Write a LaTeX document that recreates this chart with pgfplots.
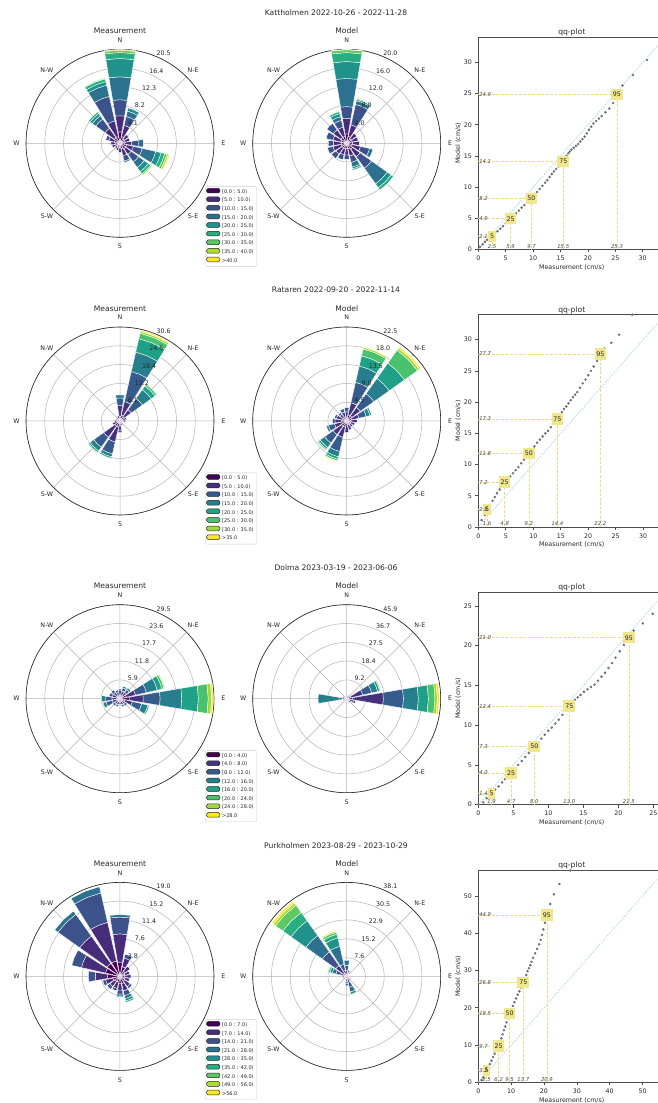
\documentclass[border=0pt]{standalone}
\usepackage{fontspec}
\setmainfont{DejaVu Sans}
\usepackage{pgfplots}
\pgfplotsset{compat=1.18}
\usepgfplotslibrary{polar}

\definecolor{vA1}{HTML}{440154}\definecolor{vA2}{HTML}{472C7A}\definecolor{vA3}{HTML}{3B528B}
\definecolor{vA4}{HTML}{2C728E}\definecolor{vA5}{HTML}{21918C}\definecolor{vA6}{HTML}{28AE80}
\definecolor{vA7}{HTML}{5EC962}\definecolor{vA8}{HTML}{ADDC30}\definecolor{vA9}{HTML}{FDE725}
\definecolor{vB1}{HTML}{440154}\definecolor{vB2}{HTML}{46327E}\definecolor{vB3}{HTML}{365C8D}
\definecolor{vB4}{HTML}{277F8E}\definecolor{vB5}{HTML}{1FA187}\definecolor{vB6}{HTML}{4AC16D}
\definecolor{vB7}{HTML}{A0DA39}\definecolor{vB8}{HTML}{FDE725}
\definecolor{khakic}{HTML}{F0E68C}
\definecolor{diagc}{HTML}{A6D5E8}
\definecolor{ptc}{HTML}{6E6E6E}

\newcommand\fs[1]{\fontsize{#1}{#1}\selectfont}

\newcount\binidx
\def\binpref{vA}
\newcommand\sect[2]{%
  \gdef\prevr{0}\global\binidx=0\relax
  \pgfmathsetmacro\aA{90-#1+9.6}%
  \pgfmathsetmacro\aM{90-#1}%
  \pgfmathsetmacro\aB{90-#1-9.6}%
  \pgfplotsforeachungrouped \rr in {#2}{%
    \global\advance\binidx by 1\relax
    \edef\doit{\noexpand\addplot[wedge,fill=\binpref\the\binidx] coordinates {(\aA,\prevr) (\aA,\rr) (\aM,\rr) (\aB,\rr) (\aB,\prevr) (\aM,\prevr) (\aA,\prevr)};}%
    \doit
    \xdef\prevr{\rr}%
  }%
}
\newcommand\compass[1]{%
 \node[cmp] at (axis cs:90,{1.1*#1}) {N};
 \node[cmp] at (axis cs:45,{1.1*#1}) {N-E};
 \node[cmp] at (axis cs:0,{1.1*#1}) {E};
 \node[cmp] at (axis cs:-45,{1.1*#1}) {S-E};
 \node[cmp] at (axis cs:-90,{1.1*#1}) {S};
 \node[cmp] at (axis cs:-135,{1.1*#1}) {S-W};
 \node[cmp] at (axis cs:180,{1.1*#1}) {W};
 \node[cmp] at (axis cs:135,{1.1*#1}) {N-W};
}
\newcommand\rl[1]{\node[rlab] at (axis cs:67.5,#1) {#1};}
\newcommand\pct[3]{%
 \addplot[pline] coordinates {(0,#2) (#1,#2) (#1,0)};
 \addplot[draw=none, nodes near coords, point meta=explicit symbolic, every node near coord/.style={pbox}] coordinates {(#1,#2) [#3]};
 \addplot[draw=none, nodes near coords, point meta=explicit symbolic, every node near coord/.style={vlab, anchor=west}] coordinates {(0,#2) [#2]};
 \addplot[draw=none, nodes near coords, point meta=explicit symbolic, every node near coord/.style={vlab, anchor=south}] coordinates {(#1,0) [#1]};
}
\newcommand\legitem[2]{\addlegendimage{fill=#1}\addlegendentry{#2}}

\tikzset{
  cmp/.style={font=\fs{6.3}, text=black!85, inner sep=0pt},
  rlab/.style={font=\fs{6.3}, text=black!85, anchor=south west, inner sep=0.4pt},
  ttl/.style={font=\fs{7.6}, text=black!85, inner sep=0pt},
  pbox/.style={fill=khakic, text=black!85, font=\fs{6.3}, inner xsep=1.8pt, minimum height=10.5pt, anchor=center},
  vlab/.style={font=\fs{5.3}\itshape, text=black!75, inner sep=0.8pt},
  swallow/.style={execute at begin node={\setbox0=\hbox\bgroup}, execute at end node={\egroup}, inner sep=0pt},
}
\pgfplotsset{
  wedge/.style={draw=white, line width=0.35pt},
  pline/.style={khakic!90!orange, line width=0.6pt, dash pattern=on 3pt off 1.5pt},
  rosestyle/.style={width=188pt, height=188pt, scale only axis, anchor=center,
    ymin=0, xtick={0,45,...,315},
    xticklabel style={swallow}, yticklabel style={swallow},
    grid=major, major grid style={black!30, line width=0.5pt},
    axis line style={black!85, line width=0.6pt},
    y axis line style={draw=none},
    major tick length=0pt, clip=false},
  qqstyle/.style={width=186.9pt, height=212.3pt, scale only axis, anchor=south west,
    xmin=0, ymin=0, tick align=outside, tick pos=left, major tick length=3pt,
    axis line style={black!70, line width=0.6pt},
    every tick/.style={black!70, line width=0.6pt},
    tick label style={font=\fs{6.3}, text=black!85},
    label style={font=\fs{6.3}, text=black!85},
    xlabel={Measurement (cm/s)}, ylabel={Model (cm/s)},
    xlabel shift=-3pt, ylabel shift=-4pt,
    title={qq-plot}, title style={font=\fs{7.6}, text=black!85, yshift=-8.5pt},
    clip=false, /pgf/number format/assume math mode=true},
  pts/.style={only marks, mark=*, mark size=1.05pt, ptc, mark options={draw=none, fill=ptc}},
  diag/.style={diagc, line width=0.6pt, dash pattern=on 2pt off 1.2pt},
  legax/.style={hide axis, anchor=south west, scale only axis, width=1pt, height=1pt,
    xmin=0, xmax=1, ymin=0, ymax=1,
    legend style={at={(0,0)}, anchor=south west, draw=black!20, rounded corners=1.5pt,
      fill=white, inner sep=1.2pt, font=\fs{5}, row sep=0pt,
      nodes={inner sep=1.9pt, text height=3.7pt, text depth=1.1pt, text=black!85}},
    legend cell align=left,
    legend image code/.code={\draw[##1, draw=black!85, line width=0.5pt] (0pt,-0.9pt) rectangle (13.3pt,3.8pt);}},
}

\begin{document}
\begin{tikzpicture}
\useasboundingbox (0,0) rectangle (658pt,1103pt);

% ================= ROW 1 =================
\node[ttl] at (336pt,1090.5pt) {Kattholmen 2022-10-26 - 2022-11-28};
\node[ttl] at (120pt,1072.3pt) {Measurement};
\node[ttl] at (346.7pt,1072.3pt) {Model};

\begin{polaraxis}[rosestyle, at={(120pt,959.7pt)}, ymax=20.5, ytick={4.1,8.2,12.3,16.4,20.5}]
\def\binpref{vA}
\sect{0}{2.5,6.0,9.5,14.5,18.5,19.8,20.3,20.5}
\sect{22.5}{1.5,4.0,6.0,7.2,7.9}
\sect{45}{1.2,2.3}
\sect{67.5}{1.0,2.2}
\sect{90}{1.0,2.5,4.0,5.1}
\sect{112.5}{1.5,3.0,5.0,8.0,9.2,10.0,10.5,10.85,11.1}
\sect{135}{1.5,3.0,5.0,6.5,7.6,8.2,8.5,8.7,8.85}
\sect{157.5}{1.2,2.8,4.0,4.3}
\sect{180}{1.0,2.0}
\sect{202.5}{1.0,1.6}
\sect{225}{0.8,1.4}
\sect{247.5}{1.0,1.8}
\sect{270}{1.0,2.0}
\sect{292.5}{1.2,2.5,3.2}
\sect{315}{1.5,4.0,6.5,7.4,8.0,8.4}
\sect{337.5}{1.5,5.0,10.5,13.0,13.8,14.4,14.6}
\compass{20.5}
\rl{4.1}\rl{8.2}\rl{12.3}\rl{16.4}\rl{20.5}
\end{polaraxis}

\begin{polaraxis}[rosestyle, at={(346.7pt,959.7pt)}, ymax=20.0, ytick={4,8,12,16,20}]
\def\binpref{vA}
\sect{0}{2.0,5.3,7.8,13.8,17.4,19.3,19.9,20.0}
\sect{22.5}{1.5,4.0,8.5,9.3,9.6,9.8,9.9,10.0}
\sect{45}{1.2,2.6}
\sect{67.5}{1.2,2.5}
\sect{90}{1.2,2.7}
\sect{112.5}{1.2,3.0,5.0,5.7}
\sect{135}{1.5,3.5,6.5,10.6,11.6,12.2}
\sect{157.5}{1.2,2.8,4.2,5.2,5.6,5.9}
\sect{180}{1.2,2.5,3.4}
\sect{202.5}{1.2,2.5,3.6}
\sect{225}{1.2,2.8,4.0}
\sect{247.5}{1.2,3.0,4.2}
\sect{270}{1.2,2.8,3.9}
\sect{292.5}{1.2,3.0,4.5}
\sect{315}{1.5,3.5,5.2}
\sect{337.5}{1.5,3.5,5.0,5.8,6.5,6.9}
\compass{20.0}
\rl{4.0}\rl{8.0}\rl{12.0}\rl{16.0}\rl{20.0}
\end{polaraxis}

\begin{axis}[legax, at={(205pt,836.4pt)}]
\legitem{vA1}{{[}0.0 : 5.0)}
\legitem{vA2}{{[}5.0 : 10.0)}
\legitem{vA3}{{[}10.0 : 15.0)}
\legitem{vA4}{{[}15.0 : 20.0)}
\legitem{vA5}{{[}20.0 : 25.0)}
\legitem{vA6}{{[}25.0 : 30.0)}
\legitem{vA7}{{[}30.0 : 35.0)}
\legitem{vA8}{{[}35.0 : 40.0)}
\legitem{vA9}{>40.0}
\end{axis}

\begin{axis}[qqstyle, at={(478.3pt,853.7pt)}, xmax=34.1, ymax=34.1, xtick={0,5,...,30}, ytick={0,5,...,30}]
\addplot[diag] coordinates {(0,0) (34.1,34.1)};
\addplot[pts] coordinates {(0.3,0.4)(0.8,0.8)(1.2,1.2)(1.6,1.5)(2.0,1.8)(2.5,2.1)(3.0,2.5)(3.5,2.9)(4.0,3.3)(4.5,3.7)(5.0,4.2)(5.5,4.6)(5.9,4.9)(6.4,5.3)(6.9,5.8)(7.4,6.2)(7.9,6.7)(8.4,7.1)(8.9,7.6)(9.3,7.9)(9.7,8.2)(10.2,8.7)(10.7,9.2)(11.2,9.7)(11.7,10.2)(12.2,10.7)(12.6,11.1)(13.0,11.6)(13.4,12.1)(13.8,12.5)(14.2,12.9)(14.6,13.3)(15.0,13.7)(15.5,14.1)(15.8,14.6)(16.1,15.0)(16.4,15.4)(16.7,15.7)(17.0,16.0)(17.4,16.3)(17.8,16.6)(18.2,16.9)(18.6,17.3)(19.0,17.7)(19.4,18.1)(19.8,18.6)(20.2,19.2)(20.6,19.7)(21.0,20.2)(21.5,20.6)(22.0,21.0)(22.5,21.4)(23.2,22.0)(23.9,22.6)(24.6,23.5)(25.3,24.9)(26.3,26.3)(28.2,28.0)(30.8,30.4)};
\pct{2.5}{2.1}{5}
\pct{5.9}{4.9}{25}
\pct{9.7}{8.2}{50}
\pct{15.5}{14.1}{75}
\pct{25.3}{24.9}{95}
\end{axis}

% ================= ROW 2 =================
\node[ttl] at (336pt,812.8pt) {Rataren 2022-09-20 - 2022-11-14};
\node[ttl] at (120pt,794.6pt) {Measurement};
\node[ttl] at (346.7pt,794.6pt) {Model};

\begin{polaraxis}[rosestyle, at={(120pt,682.0pt)}, ymax=30.6, ytick={6.1,12.2,18.4,24.5,30.6}]
\def\binpref{vB}
\sect{0}{1.5,5.0,7.5,8.5}
\sect{22.5}{2.0,6.5,16.5,23.0,27.5,29.3,29.9,30.3}
\sect{45}{1.5,4.5,9.0,12.5,14.0,14.7}
\sect{67.5}{1.0,2.2}
\sect{90}{0.8,1.8}
\sect{112.5}{0.6,1.0}
\sect{135}{0.6,1.0}
\sect{157.5}{0.8,1.6}
\sect{180}{1.5,3.0,3.8}
\sect{202.5}{2.0,7.0,11.0,12.0,12.5}
\sect{225}{2.0,6.5,10.5,12.0,12.6,12.9}
\sect{247.5}{1.0,2.5}
\sect{270}{0.8,1.8}
\sect{292.5}{0.6,1.3}
\sect{315}{0.6,1.3}
\sect{337.5}{0.8,1.8}
\compass{30.6}
\rl{6.1}\rl{12.2}\rl{18.4}\rl{24.5}\rl{30.6}
\end{polaraxis}

\begin{polaraxis}[rosestyle, at={(346.7pt,682.0pt)}, ymax=22.5, ytick={4.5,9.0,13.5,18.0,22.5}]
\def\binpref{vB}
\sect{0}{1.0,2.2,3.2}
\sect{22.5}{1.5,4.5,9.5,13.5,16.0,17.7,18.1,18.3}
\sect{45}{1.5,4.0,8.0,12.5,17.0,20.8,21.4,21.8}
\sect{67.5}{1.2,3.0,4.8,5.7,6.1}
\sect{90}{1.0,2.5}
\sect{112.5}{1.0,2.0}
\sect{135}{1.0,1.8}
\sect{157.5}{1.0,2.2}
\sect{180}{1.2,2.8}
\sect{202.5}{1.5,4.0,7.5,8.8,9.4,9.8,10.0,10.2}
\sect{225}{1.5,4.0,6.5,7.8,8.3,8.6}
\sect{247.5}{1.2,3.0,4.5,5.0}
\sect{270}{1.2,2.8,3.4}
\sect{292.5}{1.0,2.5,3.0}
\sect{315}{1.0,2.0,2.5}
\sect{337.5}{1.0,2.2,3.0}
\compass{22.5}
\rl{4.5}\rl{9.0}\rl{13.5}\rl{18.0}\rl{22.5}
\end{polaraxis}

\begin{axis}[legax, at={(205pt,558.7pt)}]
\legitem{vB1}{{[}0.0 : 5.0)}
\legitem{vB2}{{[}5.0 : 10.0)}
\legitem{vB3}{{[}10.0 : 15.0)}
\legitem{vB4}{{[}15.0 : 20.0)}
\legitem{vB5}{{[}20.0 : 25.0)}
\legitem{vB6}{{[}25.0 : 30.0)}
\legitem{vB7}{{[}30.0 : 35.0)}
\legitem{vB8}{>35.0}
\end{axis}

\begin{axis}[qqstyle, at={(478.3pt,576.0pt)}, xmax=34.0, ymax=34.0, xtick={0,5,...,30}, ytick={0,5,...,30}]
\addplot[diag] coordinates {(0,0) (34.0,34.0)};
\addplot[pts] coordinates {(0.6,1.1)(1.2,1.9)(1.6,2.8)(2.1,3.5)(2.6,4.2)(3.0,4.8)(3.4,5.4)(3.9,6.0)(4.3,6.6)(4.8,7.2)(5.3,7.7)(5.8,8.1)(6.3,8.6)(6.8,9.1)(7.3,9.6)(7.8,10.2)(8.3,10.8)(8.8,11.4)(9.2,11.8)(9.7,12.3)(10.2,12.9)(10.7,13.5)(11.2,14.0)(11.7,14.5)(12.2,15.0)(12.7,15.4)(13.2,16.0)(13.6,16.5)(14.0,16.9)(14.4,17.3)(14.8,17.9)(15.2,18.4)(15.6,18.9)(16.0,19.3)(16.4,19.8)(16.8,20.3)(17.2,20.8)(17.6,21.2)(18.0,21.6)(18.5,22.3)(19.0,23.0)(19.5,23.6)(20.0,24.3)(20.5,25.0)(21.0,25.7)(21.6,26.6)(22.2,27.7)(22.9,28.6)(24.2,29.5)(25.6,30.8)(28.0,34.0)};
\pct{1.6}{2.8}{5}
\pct{4.8}{7.2}{25}
\pct{9.2}{11.8}{50}
\pct{14.4}{17.3}{75}
\pct{22.2}{27.7}{95}
\end{axis}

% ================= ROW 3 =================
\node[ttl] at (336pt,535.1pt) {Dolma 2023-03-19 - 2023-06-06};
\node[ttl] at (120pt,516.9pt) {Measurement};
\node[ttl] at (346.7pt,516.9pt) {Model};

\begin{polaraxis}[rosestyle, at={(120pt,404.3pt)}, ymax=29.5, ytick={5.9,11.8,17.7,23.6,29.5}]
\def\binpref{vB}
\sect{0}{1.0,2.5,3.0}
\sect{22.5}{1.0,2.5,3.5,4.0}
\sect{45}{1.0,2.5,3.5,4.2}
\sect{67.5}{2.0,5.0,8.5,12.0,13.5,14.2,14.5}
\sect{90}{3.0,7.3,12.6,19.4,24.6,27.7,28.8,29.3}
\sect{112.5}{1.5,4.0,7.0,9.0,9.4}
\sect{135}{1.0,2.0,2.8}
\sect{157.5}{1.0,2.0,2.6}
\sect{180}{0.8,1.8,2.2}
\sect{202.5}{1.0,2.0,2.6}
\sect{225}{1.0,2.0,2.8}
\sect{247.5}{1.0,2.5,4.5,5.5,5.8,6.0,6.2}
\sect{270}{1.0,2.5,4.5,5.8}
\sect{292.5}{1.0,2.5,3.5}
\sect{315}{1.0,2.5,3.4}
\sect{337.5}{1.0,2.0,2.8}
\compass{29.5}
\rl{5.9}\rl{11.8}\rl{17.7}\rl{23.6}\rl{29.5}
\end{polaraxis}

\begin{polaraxis}[rosestyle, at={(346.7pt,404.3pt)}, ymax=45.9, ytick={9.2,18.4,27.5,36.7,45.9}]
\def\binpref{vB}
\sect{0}{0.8,1.6}
\sect{22.5}{0.8,1.6}
\sect{45}{1.0,2.0}
\sect{67.5}{2.0,8.0,12.5,15.5,16.6,17.1,17.4}
\sect{90}{3.0,17.9,27.7,35.0,39.9,43.1,44.3,45.3}
\sect{112.5}{1.5,3.5,4.5}
\sect{135}{1.0,2.5}
\sect{157.5}{0.8,1.6}
\sect{180}{0.6,1.2}
\sect{202.5}{0.6,1.2}
\sect{225}{0.6,1.2}
\sect{247.5}{1.0,2.0}
\sect{270}{1.0,2.0,3.4,14.0}
\sect{292.5}{1.0,2.0}
\sect{315}{0.6,1.2}
\sect{337.5}{0.6,1.2}
\compass{45.9}
\rl{9.2}\rl{18.4}\rl{27.5}\rl{36.7}\rl{45.9}
\end{polaraxis}

\begin{axis}[legax, at={(205pt,281.0pt)}]
\legitem{vB1}{{[}0.0 : 4.0)}
\legitem{vB2}{{[}4.0 : 8.0)}
\legitem{vB3}{{[}8.0 : 12.0)}
\legitem{vB4}{{[}12.0 : 16.0)}
\legitem{vB5}{{[}16.0 : 20.0)}
\legitem{vB6}{{[}20.0 : 24.0)}
\legitem{vB7}{{[}24.0 : 28.0)}
\legitem{vB8}{>28.0}
\end{axis}

\begin{axis}[qqstyle, at={(478.3pt,298.3pt)}, xmax=26.7, ymax=26.7, xtick={0,5,...,25}, ytick={0,5,...,25}]
\addplot[diag] coordinates {(0,0) (26.7,26.7)};
\addplot[pts] coordinates {(0.7,0.3)(1.2,0.8)(1.9,1.4)(2.4,1.9)(2.9,2.3)(3.4,2.8)(3.8,3.2)(4.2,3.6)(4.7,4.0)(5.2,4.5)(5.7,5.0)(6.2,5.5)(6.7,6.0)(7.2,6.5)(7.6,6.9)(8.0,7.3)(8.5,7.8)(9.0,8.3)(9.5,8.8)(10.0,9.3)(10.5,9.7)(11.0,10.2)(11.5,10.7)(12.0,11.3)(12.5,11.9)(13.0,12.4)(13.4,12.8)(13.8,13.2)(14.2,13.5)(14.6,13.8)(15.1,14.2)(15.6,14.5)(16.1,14.8)(16.6,15.1)(17.1,15.6)(17.6,16.1)(18.1,16.6)(18.6,17.2)(19.1,17.8)(19.6,18.5)(20.2,19.3)(20.8,20.1)(21.5,21.0)(22.2,21.9)(23.5,22.8)(24.9,24.0)};
\pct{1.9}{1.4}{5}
\pct{4.7}{4.0}{25}
\pct{8.0}{7.3}{50}
\pct{13.0}{12.4}{75}
\pct{21.5}{21.0}{95}
\end{axis}

% ================= ROW 4 =================
\node[ttl] at (336pt,257.4pt) {Purkholmen 2023-08-29 - 2023-10-29};
\node[ttl] at (120pt,239.2pt) {Measurement};
\node[ttl] at (346.7pt,239.2pt) {Model};

\begin{polaraxis}[rosestyle, at={(120pt,126.6pt)}, ymax=19.0, ytick={3.8,7.6,11.4,15.2,19.0}]
\def\binpref{vA}
\sect{0}{2.9,8.6,12.0,12.5}
\sect{22.5}{2.0,3.8,4.6}
\sect{45}{1.2,2.5}
\sect{67.5}{1.0,2.0}
\sect{90}{1.0,2.2}
\sect{112.5}{1.0,2.0}
\sect{135}{1.2,2.5,3.0}
\sect{157.5}{1.5,3.0,4.0,4.6,5.1,5.4}
\sect{180}{1.5,2.8,3.6,4.0,4.2}
\sect{202.5}{1.2,2.5,3.0}
\sect{225}{1.2,2.5,3.2}
\sect{247.5}{1.5,3.0,3.6}
\sect{270}{2.5,5.0,6.4}
\sect{292.5}{3.0,8.0,10.0}
\sect{315}{3.2,10.0,15.4,16.2}
\sect{337.5}{3.2,11.2,17.3,18.6}
\compass{19.0}
\rl{3.8}\rl{7.6}\rl{11.4}\rl{15.2}\rl{19.0}
\end{polaraxis}

\begin{polaraxis}[rosestyle, at={(346.7pt,126.6pt)}, ymax=38.1, ytick={7.6,15.2,22.9,30.5,38.1}]
\def\binpref{vA}
\sect{0}{1.0,2.5,4.5,6.5}
\sect{22.5}{0.8,1.8,2.5}
\sect{45}{0.6,1.2}
\sect{67.5}{0.6,1.2}
\sect{90}{0.6,1.0}
\sect{112.5}{0.6,1.2}
\sect{135}{0.8,1.6,2.2}
\sect{157.5}{1.0,2.5,4.5,6.5,7.5,7.8}
\sect{180}{1.0,2.0,3.0,3.8}
\sect{202.5}{0.6,1.2}
\sect{225}{0.6,1.0}
\sect{247.5}{0.8,1.6}
\sect{270}{0.8,1.6}
\sect{292.5}{1.0,2.5,4.5,6.0,7.0,7.6,8.0,8.3}
\sect{315}{1.5,5.4,12.2,20.3,27.7,31.8,35.4,36.5,37.3}
\sect{337.5}{1.0,2.5,5.0,12.5,16.0,17.5,18.4,18.9,19.2}
\compass{38.1}
\rl{7.6}\rl{15.2}\rl{22.9}\rl{30.5}\rl{38.1}
\end{polaraxis}

\begin{axis}[legax, at={(205pt,3.3pt)}]
\legitem{vA1}{{[}0.0 : 7.0)}
\legitem{vA2}{{[}7.0 : 14.0)}
\legitem{vA3}{{[}14.0 : 21.0)}
\legitem{vA4}{{[}21.0 : 28.0)}
\legitem{vA5}{{[}28.0 : 35.0)}
\legitem{vA6}{{[}35.0 : 42.0)}
\legitem{vA7}{{[}42.0 : 49.0)}
\legitem{vA8}{{[}49.0 : 56.0)}
\legitem{vA9}{>56.0}
\end{axis}

\begin{axis}[qqstyle, at={(478.3pt,20.6pt)}, xmax=56.9, ymax=56.9, xtick={0,10,...,50}, ytick={0,10,...,50}]
\addplot[diag] coordinates {(0,0) (56.9,56.9)};
\addplot[pts] coordinates {(1.0,0.6)(1.5,1.3)(2.0,2.3)(2.5,3.2)(3.0,4.0)(3.5,4.9)(4.0,5.8)(4.5,6.8)(5.0,7.7)(5.5,8.6)(6.2,9.7)(6.6,10.8)(7.0,11.8)(7.4,12.9)(7.8,14.0)(8.2,15.0)(8.6,16.1)(9.0,17.2)(9.5,18.5)(10.0,19.5)(10.5,20.5)(11.0,21.5)(11.5,22.5)(12.0,23.5)(12.5,24.4)(13.0,25.4)(13.7,26.8)(14.2,27.8)(14.6,28.8)(15.0,29.8)(15.4,30.6)(15.8,31.4)(16.2,32.3)(16.7,33.4)(17.3,34.6)(17.9,35.8)(18.5,37.0)(19.0,38.2)(19.4,39.5)(19.8,41.0)(20.3,42.8)(20.9,44.9)(21.9,47.8)(23.0,50.4)(24.7,53.2)(28.0,56.8)};
\pct{2.5}{3.2}{5}
\pct{6.2}{9.7}{25}
\pct{9.5}{18.5}{50}
\pct{13.7}{26.8}{75}
\pct{20.9}{44.9}{95}
\end{axis}

\end{tikzpicture}
\end{document}
